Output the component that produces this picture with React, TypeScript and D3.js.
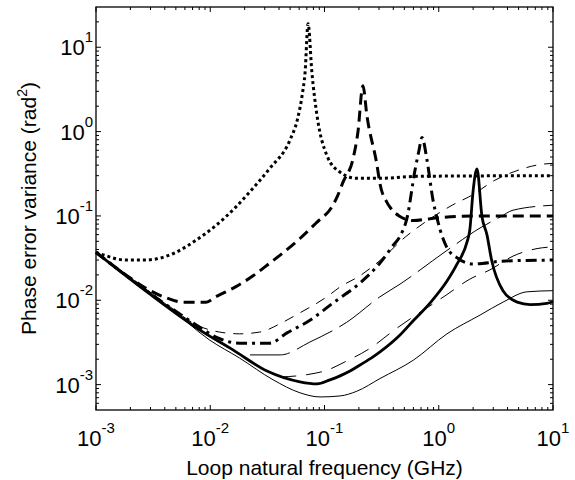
import React from 'react';
import * as d3 from 'd3';

type Pt = [number, number];

// axis ticks
const xMajor = [1e-3, 1e-2, 1e-1, 1e0, 1e1];
const xExp = ['-3', '-2', '-1', '0', '1'];
const yMajor = [1e-3, 1e-2, 1e-1, 1e0, 1e1];
const yExp = ['-3', '-2', '-1', '0', '1'];

// [loop natural frequency (GHz), phase error variance (rad^2)]
const dottedThick: Pt[] = [
  [0.001, 0.037], [0.0012, 0.034], [0.0018, 0.030], [0.0027, 0.030], [0.0034, 0.031],
  [0.005, 0.037], [0.0075, 0.0515], [0.0112, 0.077], [0.0168, 0.128], [0.0223, 0.194],
  [0.033, 0.363], [0.05, 0.80], [0.058, 1.4], [0.064, 2.8], [0.0676, 5.0], [0.0718, 19],
  [0.0776, 5.0], [0.086, 1.55], [0.105, 0.52], [0.137, 0.33], [0.19, 0.28], [0.325, 0.28],
  [0.65, 0.295], [10, 0.30],
];

const dashedThick: Pt[] = [
  [0.001, 0.037], [0.00195, 0.0188], [0.00274, 0.0139], [0.0039, 0.011], [0.0058, 0.0095],
  [0.0092, 0.0095], [0.0112, 0.011], [0.0168, 0.0145], [0.0237, 0.0195], [0.0314, 0.026],
  [0.061, 0.054], [0.084, 0.082], [0.1185, 0.134], [0.131, 0.176], [0.145, 0.25],
  [0.178, 0.48], [0.196, 0.98], [0.217, 3.5], [0.235, 1.55], [0.288, 0.40], [0.306, 0.24],
  [0.352, 0.145], [0.374, 0.127], [0.45, 0.1], [0.6, 0.088], [0.8, 0.092], [1, 0.095],
  [2, 0.1], [10, 0.1],
];

const dashDotThick: Pt[] = [
  [0.001, 0.037], [0.002, 0.018], [0.004, 0.0091], [0.0081, 0.0048], [0.0115, 0.0036],
  [0.018, 0.0031], [0.033, 0.0031], [0.047, 0.0041], [0.0746, 0.0058], [0.119, 0.0093],
  [0.204, 0.016], [0.306, 0.0276], [0.40, 0.045], [0.46, 0.058], [0.527, 0.094], [0.62, 0.35],
  [0.672, 0.6], [0.713, 0.85], [0.789, 0.46], [0.89, 0.155], [0.966, 0.094], [1.03, 0.068],
  [1.17, 0.043], [1.44, 0.032], [1.99, 0.027], [2.8, 0.028], [3.4, 0.029], [10, 0.030],
];

const solidThick: Pt[] = [
  [0.001, 0.037], [0.00297, 0.0118], [0.00813, 0.00443], [0.0158, 0.00258], [0.0314, 0.00145],
  [0.061, 0.00108], [0.086, 0.00102], [0.1117, 0.00114], [0.1368, 0.00127], [0.1672, 0.00145],
  [0.2046, 0.00171], [0.2657, 0.00213], [0.306, 0.00244], [0.458, 0.00387], [0.595, 0.00567],
  [0.838, 0.00927], [1.181, 0.0169], [1.444, 0.0268], [1.767, 0.0489], [1.87, 0.068],
  [2.0, 0.2], [2.16, 0.36], [2.39, 0.098], [2.64, 0.06], [2.9, 0.03], [3.65, 0.013],
  [4.86, 0.0095], [6.3, 0.0089], [8.85, 0.0092], [10, 0.0096],
];

const shortDashThin: Pt[] = [
  [0.001, 0.037], [0.002, 0.0185], [0.004, 0.0093], [0.0081, 0.0049], [0.012, 0.0042],
  [0.018, 0.0040], [0.0272, 0.0042], [0.0433, 0.0055], [0.061, 0.0071], [0.105, 0.011],
  [0.137, 0.0144], [0.204, 0.0195], [0.3, 0.029], [0.516, 0.057], [0.805, 0.089],
  [1.31, 0.134], [1.95, 0.176], [3.1, 0.265], [4.94, 0.348], [8.0, 0.41], [10, 0.42],
];

const longDashThin: Pt[] = [
  [0.0223, 0.00225], [0.041, 0.00225], [0.0746, 0.0032], [0.157, 0.0055], [0.306, 0.011],
  [0.457, 0.0155], [1.18, 0.039], [2.3, 0.072], [3.44, 0.097], [4.47, 0.117], [10, 0.134],
];

const midDashThin: Pt[] = [
  [0.041, 0.00123], [0.0746, 0.00133], [0.105, 0.00148], [0.151, 0.00186], [0.251, 0.0027],
  [0.414, 0.0045], [1.16, 0.0115], [1.87, 0.0178], [2.8, 0.0229], [4.47, 0.0334],
  [7.25, 0.041], [10, 0.043],
];

const solidThin: Pt[] = [
  [0.001, 0.037], [0.002, 0.0185], [0.004, 0.0092], [0.0098, 0.0034], [0.018, 0.00207],
  [0.0355, 0.00114], [0.061, 0.0008], [0.0915, 0.000714], [0.1368, 0.000734],
  [0.192, 0.000835], [0.306, 0.00118], [0.60, 0.00195], [1.18, 0.0040], [2.3, 0.00668],
  [3.65, 0.0095], [5.93, 0.0126], [10, 0.013],
];

const series = [
  { data: solidThin, width: 1, dash: 'none' },
  { data: midDashThin, width: 1, dash: '16,10' },
  { data: longDashThin, width: 1, dash: '40,8' },
  { data: shortDashThin, width: 1, dash: '10,8' },
  { data: solidThick, width: 2.8, dash: 'none' },
  { data: dashDotThick, width: 3, dash: '11,5,3,5' },
  { data: dashedThick, width: 3, dash: '11,6' },
  { data: dottedThick, width: 3, dash: '3,3' },
];

const W = 575;
const H = 480;
const m = { left: 96, right: 22, top: 7, bottom: 70 };
const font = '"Liberation Sans", Arial, Helvetica, sans-serif';

const minorTicks = (lo: number, hi: number) => {
  const out: number[] = [];
  for (let e = -4; e <= 1; e++) {
    for (let k = 2; k <= 9; k++) {
      const v = k * Math.pow(10, e);
      if (v > lo && v < hi) out.push(v);
    }
  }
  return out;
};

export default function App() {
  const x = d3.scaleLog().domain([1e-3, 10]).range([m.left, W - m.right]);
  const y = d3.scaleLog().domain([5e-4, 30]).range([H - m.bottom, m.top]);
  const line = d3
    .line<Pt>()
    .x((d) => x(d[0]))
    .y((d) => y(d[1]))
    .curve(d3.curveMonotoneX);

  const x0 = m.left;
  const x1 = W - m.right;
  const y0 = H - m.bottom;
  const y1 = m.top;
  const xMinor = minorTicks(1e-3, 10);
  const yMinor = minorTicks(5e-4, 30);

  return (
    <svg
      width={W}
      height={H}
      style={{ position: 'absolute', left: 0, top: 0, background: '#fff' }}
      fontFamily={font}
    >
      <rect x={0} y={0} width={W} height={H} fill="#fff" />
      <g fill="none" stroke="#000">
        {series.map((s, i) => (
          <path
            key={i}
            d={line(s.data) || ''}
            strokeWidth={s.width}
            strokeDasharray={s.dash}
            strokeLinejoin="round"
          />
        ))}
      </g>

      {/* frame and ticks */}
      <g stroke="#000" strokeWidth={1}>
        <rect x={x0} y={y1} width={x1 - x0} height={y0 - y1} fill="none" strokeWidth={1.3} />
        {xMajor.map((v, i) => (
          <g key={'xM' + i}>
            <line x1={x(v)} x2={x(v)} y1={y0} y2={y0 - 5} />
            <line x1={x(v)} x2={x(v)} y1={y1} y2={y1 + 5} />
          </g>
        ))}
        {xMinor.map((v, i) => (
          <g key={'xm' + i}>
            <line x1={x(v)} x2={x(v)} y1={y0} y2={y0 - 3} />
            <line x1={x(v)} x2={x(v)} y1={y1} y2={y1 + 3} />
          </g>
        ))}
        {yMajor.map((v, i) => (
          <g key={'yM' + i}>
            <line x1={x0} x2={x0 + 5} y1={y(v)} y2={y(v)} />
            <line x1={x1} x2={x1 - 5} y1={y(v)} y2={y(v)} />
          </g>
        ))}
        {yMinor.map((v, i) => (
          <g key={'ym' + i}>
            <line x1={x0} x2={x0 + 3} y1={y(v)} y2={y(v)} />
            <line x1={x1} x2={x1 - 3} y1={y(v)} y2={y(v)} />
          </g>
        ))}
      </g>

      {/* tick labels */}
      <g fill="#000" fontSize={22}>
        {xMajor.map((v, i) => (
          <text key={'xl' + i} x={x(v)} y={y0 + 36} textAnchor="middle">
            10
            <tspan fontSize={15} dy={-13}>
              {xExp[i]}
            </tspan>
          </text>
        ))}
        {yMajor.map((v, i) => (
          <text key={'yl' + i} x={x0 - 3} y={y(v) + 8} textAnchor="end">
            10
            <tspan fontSize={15} dy={-13}>
              {yExp[i]}
            </tspan>
          </text>
        ))}
      </g>

      {/* axis titles */}
      <text x={(x0 + x1) / 2} y={475} textAnchor="middle" fontSize={21}>
        Loop natural frequency (GHz)
      </text>
      <text
        transform={`translate(36,${(y0 + y1) / 2}) rotate(-90)`}
        textAnchor="middle"
        fontSize={21}
      >
        Phase error variance (rad
        <tspan fontSize={14} dy={-9}>
          2
        </tspan>
        <tspan dy={9}>)</tspan>
      </text>
    </svg>
  );
}
